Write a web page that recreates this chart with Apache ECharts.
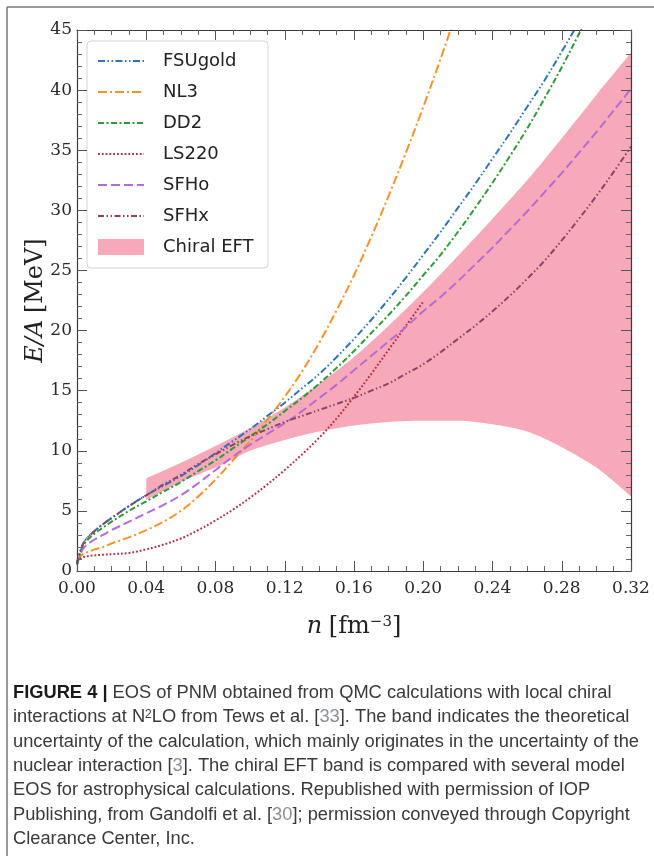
<!DOCTYPE html>
<html>
<head>
<meta charset="utf-8">
<script src="https://cdn.jsdelivr.net/npm/echarts@6/dist/echarts.min.js"></script>
<style>
  html, body { margin: 0; padding: 0; background: #fff; }
  #eos-chart { width: 654px; height: 856px; }
</style>
</head>
<body>
<div id="eos-chart"></div>
<script>
  // densities n [fm^-3] shared by the model curves
  const density = [0, 0.0025, 0.005, 0.01, 0.015, 0.02, 0.03, 0.04, 0.05, 0.06, 0.07, 0.08, 0.09, 0.10,
    0.11, 0.12, 0.13, 0.14, 0.15, 0.16, 0.17, 0.18, 0.19, 0.20, 0.21, 0.22, 0.23, 0.24, 0.25, 0.26,
    0.27, 0.28, 0.29, 0.30, 0.31, 0.32];

  // E/A [MeV] per model
  const fsugold = [0.6, 1.9, 2.6, 3.3, 3.9, 4.4, 5.4, 6.3, 7.1, 7.9, 8.8, 9.8, 10.8, 11.8,
    12.9, 14.0, 15.2, 16.4, 17.8, 19.3, 20.9, 22.6, 24.4, 26.3, 28.2, 30.2, 32.2, 34.3, 36.4, 38.6,
    40.8, 43.2, 45.7, 48.3];
  const nl3 = [0.9, 1.3, 1.5, 1.8, 2.0, 2.3, 2.8, 3.4, 4.1, 5.0, 6.2, 7.6, 9.2, 10.8,
    12.6, 14.5, 16.6, 19.0, 21.7, 24.6, 27.8, 31.2, 34.8, 38.6, 42.6, 46.8];
  const dd2 = [0.6, 1.8, 2.4, 3.1, 3.6, 4.1, 5.0, 5.8, 6.6, 7.4, 8.3, 9.2, 10.2, 11.2,
    12.2, 13.3, 14.4, 15.6, 16.9, 18.3, 19.8, 21.3, 22.9, 24.6, 26.3, 28.2, 30.2, 32.3, 34.5, 36.8,
    39.3, 41.9, 44.7, 47.6];
  const ls220 = [0.8, 1.1, 1.2, 1.3, 1.35, 1.4, 1.5, 1.8, 2.2, 2.7, 3.4, 4.2, 5.1, 6.1,
    7.2, 8.4, 9.7, 11.1, 12.7, 14.5, 16.4, 18.4, 20.4, 22.4];
  const sfho = [0.5, 1.6, 2.1, 2.6, 3.0, 3.4, 4.1, 4.8, 5.5, 6.3, 7.3, 8.4, 9.5, 10.5,
    11.4, 12.3, 13.3, 14.4, 15.5, 16.7, 17.9, 19.1, 20.3, 21.6, 22.8, 24.1, 25.5, 26.9, 28.4, 29.9,
    31.5, 33.1, 34.8, 36.5, 38.3, 40.1];
  const sfhx = [0.6, 1.9, 2.6, 3.3, 3.9, 4.4, 5.4, 6.3, 7.2, 8.0, 8.9, 9.7, 10.5, 11.2,
    11.8, 12.4, 12.9, 13.4, 13.9, 14.4, 15.0, 15.6, 16.4, 17.2, 18.2, 19.3, 20.4, 21.6, 22.9, 24.3,
    25.8, 27.5, 29.3, 31.2, 33.2, 35.3];

  // chiral EFT band
  const bandDensity = [0.04, 0.06, 0.08, 0.10, 0.12, 0.14, 0.16, 0.18, 0.20, 0.22, 0.24, 0.26, 0.28, 0.30, 0.32];
  const bandLower = [5.9, 7.4, 8.6, 10.0, 10.9, 11.6, 12.1, 12.4, 12.5, 12.5, 12.2, 11.6, 10.3, 8.6, 6.2];
  const bandUpper = [7.7, 9.0, 10.4, 11.9, 13.6, 15.6, 17.8, 20.4, 23.2, 26.2, 29.3, 32.5, 36.0, 39.6, 43.1];

  const captionLines = [
    '{b|FIGURE 4 |} EOS of PNM obtained from QMC calculations with local chiral',
    'interactions at N{sup|2}LO from Tews et al. [{ref|33}]. The band indicates the theoretical',
    'uncertainty of the calculation, which mainly originates in the uncertainty of the',
    'nuclear interaction [{ref|3}]. The chiral EFT band is compared with several model',
    'EOS for astrophysical calculations. Republished with permission of IOP',
    'Publishing, from Gandolfi et al. [{ref|30}]; permission conveyed through Copyright',
    'Clearance Center, Inc.'
  ];

  const bandColor = '#f8a9b9';
  const serif = 'DejaVu Serif';
  const captionSize = 18.3;

  function toPairs(xs, ys) {
    return xs.map((x, i) => [x, ys[i]]).filter(p => p[1] != null);
  }

  // band points as [E, n] so that the stack runs along the energy axis
  function toBandPairs(ys) {
    return bandDensity.map((x, i) => [ys[i], x]);
  }

  function modelLine(name, values, color, dash) {
    return {
      name: name,
      type: 'line',
      data: toPairs(density, values),
      symbol: 'none',
      smooth: 0.35,
      color: color,
      lineStyle: { color: color, width: 2, type: dash },
      z: 3
    };
  }

  function frameAxis(position, isX) {
    const axis = {
      type: 'value',
      position: position,
      z: 5,
      axisLine: { show: true, onZero: false, lineStyle: { color: '#3a3a3a', width: 1.2 } },
      axisTick: { show: true, inside: true, length: 10, lineStyle: { color: '#555' } },
      minorTick: { show: true, splitNumber: isX ? 4 : 5, length: 5, lineStyle: { color: '#666' } },
      splitLine: { show: false },
      axisLabel: { show: false }
    };
    if (isX) {
      Object.assign(axis, { min: 0, max: 0.32, interval: 0.04 });
    } else {
      Object.assign(axis, { min: 0, max: 45, interval: 5 });
    }
    return axis;
  }

  const chart = echarts.init(document.getElementById('eos-chart'), null, { renderer: 'canvas' });

  const xBottom = frameAxis('bottom', true);
  xBottom.axisLabel = {
    show: true, margin: 9, fontFamily: serif, fontSize: 17, color: '#2a2a2a',
    formatter: v => v.toFixed(2)
  };
  xBottom.name = '{i|n}  {r|[fm}{s|\u22123}{r|]}';
  xBottom.nameLocation = 'middle';
  xBottom.nameGap = 44;
  xBottom.nameTextStyle = {
    rich: {
      i: { fontFamily: serif, fontStyle: 'italic', fontSize: 24, color: '#222' },
      r: { fontFamily: serif, fontSize: 24, color: '#222' },
      s: { fontFamily: serif, fontSize: 15, color: '#222', verticalAlign: 'top' }
    }
  };

  const yLeft = frameAxis('left', false);
  yLeft.axisLabel = { show: true, margin: 5, fontFamily: serif, fontSize: 17, color: '#2a2a2a' };
  yLeft.name = '{i|E/A}  {r|[MeV]}';
  yLeft.nameLocation = 'middle';
  yLeft.nameRotate = 90;
  yLeft.nameGap = 29;
  yLeft.nameMoveOverlap = false;
  yLeft.nameTextStyle = {
    rich: {
      i: { fontFamily: serif, fontStyle: 'italic', fontSize: 24, color: '#222' },
      r: { fontFamily: serif, fontSize: 24, color: '#222' }
    }
  };

  const option = {
    animation: false,
    backgroundColor: '#fff',
    grid: { left: 77, right: 23, top: 30, bottom: 285, containLabel: false },
    xAxis: [xBottom, frameAxis('top', true)],
    yAxis: [yLeft, frameAxis('right', false)],
    legend: {
      data: ['FSUgold', 'NL3', 'DD2', 'LS220', 'SFHo', 'SFHx',
        { name: 'Chiral EFT', icon: 'rect', itemStyle: { color: bandColor, opacity: 1 } }],
      orient: 'vertical',
      left: 87,
      top: 41,
      itemWidth: 46,
      itemHeight: 16,
      itemGap: 13,
      padding: [11, 13, 12, 10],
      backgroundColor: 'rgba(255,255,255,0.85)',
      borderColor: '#d4d4d4',
      borderWidth: 1,
      borderRadius: 4,
      selectedMode: false,
      itemStyle: { opacity: 0 },
      lineStyle: { width: 2 },
      textStyle: {
        fontFamily: 'DejaVu Sans', fontSize: 18, color: '#222',
        lineHeight: 16, width: 92, padding: [0, 0, 0, 14]
      }
    },
    series: [
      modelLine('FSUgold', fsugold, '#2d74b8', [7, 2.5, 1.5, 2.5, 1.5, 2.5]),
      modelLine('NL3', nl3, '#f5922a', [9, 3, 2, 3]),
      modelLine('DD2', dd2, '#2f9a36', [6, 2.5, 2, 2.5]),
      modelLine('LS220', ls220, '#b0303f', [1.8, 2]),
      modelLine('SFHo', sfho, '#b46bd6', [9, 4]),
      modelLine('SFHx', sfhx, '#8b4560', [6, 2.5, 1.5, 2.5, 1.5, 2.5]),
      {
        name: 'band-lower',
        type: 'line',
        stack: 'band',
        data: toBandPairs(bandLower),
        encode: { x: 1, y: 0 },
        symbol: 'none',
        smooth: 0.3,
        lineStyle: { opacity: 0 },
        silent: true,
        z: 1
      },
      {
        name: 'Chiral EFT',
        type: 'line',
        stack: 'band',
        data: toBandPairs(bandUpper.map((u, i) => u - bandLower[i])),
        encode: { x: 1, y: 0 },
        symbol: 'none',
        smooth: 0.3,
        color: bandColor,
        lineStyle: { opacity: 0 },
        areaStyle: { color: bandColor, opacity: 1 },
        silent: true,
        z: 1
      }
    ],
    graphic: [
      { type: 'line', shape: { x1: 7, y1: 7, x2: 654, y2: 7 }, style: { stroke: '#777', lineWidth: 1.5 } },
      { type: 'line', shape: { x1: 7, y1: 7, x2: 7, y2: 856 }, style: { stroke: '#777', lineWidth: 1.5 } }
    ].concat(captionLines.map((line, i) => ({
      type: 'text',
      x: 13,
      y: 693 + i * 24.35,
      style: {
        text: line,
        fontFamily: 'Liberation Sans',
        fontSize: captionSize,
        fill: '#3a3a3a',
        verticalAlign: 'middle',
        align: 'left',
        rich: {
          b: { fontFamily: 'Liberation Sans', fontSize: captionSize, fontWeight: 'bold', fill: '#1a1a1a' },
          sup: { fontFamily: 'Liberation Sans', fontSize: 12, fill: '#3a3a3a', verticalAlign: 'top' },
          ref: { fontFamily: 'Liberation Sans', fontSize: captionSize, fill: '#8a8f96' }
        }
      }
    })))
  };

  chart.setOption(option);

  window.addEventListener('resize', () => {
    chart.resize();
  });
</script>
</body>
</html>
